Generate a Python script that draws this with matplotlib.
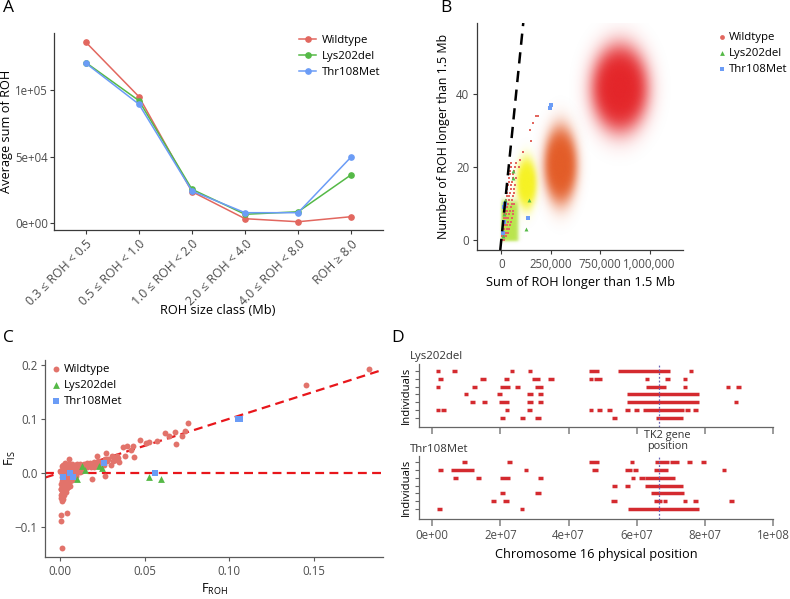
import numpy as np
import matplotlib
matplotlib.use('Agg')
import matplotlib.pyplot as plt
from matplotlib.colors import to_rgb
from matplotlib.transforms import blended_transform_factory
from matplotlib.collections import LineCollection

plt.rcParams['font.family'] = ['Open Sans', 'DejaVu Sans']
plt.rcParams['mathtext.fontset'] = 'custom'
plt.rcParams['mathtext.rm'] = 'Open Sans'
plt.rcParams['mathtext.it'] = 'Open Sans:italic'
plt.rcParams['mathtext.bf'] = 'Open Sans:bold'

# ---------------- Panel A data ----------------
size_classes = ['0.3 \u2264 ROH < 0.5', '0.5 \u2264 ROH < 1.0', '1.0 \u2264 ROH < 2.0',
                '2.0 \u2264 ROH < 4.0', '4.0 \u2264 ROH < 8.0', 'ROH \u2265 8.0']
roh_wildtype = [136100, 95200, 23800, 3500, 1200, 5000]
roh_lys202del = [120800, 92200, 25600, 6800, 8700, 36500]
roh_thr108met = [120300, 89500, 24300, 8000, 8000, 49900]
a_yticks = [0, 50000, 100000]
a_yticklabels = ['0e+00', '5e+04', '1e+05']

# ---------------- Panel B data ----------------
# simulated clouds: centre x, centre y, sd x, sd y, colour, max opacity
sim_clouds = {
    'red':    (600000, 41.5, 68000, 5.6, '#E3191D', 0.95),
    'orange': (300000, 20.5, 40000, 5.0, '#E2531B', 0.95),
    'yellow': (128000, 15.5, 24000, 3.3, '#F6F21C', 0.97),
}
green_block = (0, 85000, -0.3, 10.6, '#B2E23A', 0.9)   # x0, x1, y0, y1
b_wt_rows = {  # number of ROH -> sums (thousands)
    0: [5, 12], 1: [5, 15, 25], 2: [6, 14, 22, 35], 3: [8, 16, 28, 40],
    4: [10, 18, 30, 45], 5: [12, 20, 32, 50], 6: [14, 22, 36, 55], 7: [15, 25, 40, 58],
    8: [17, 28, 45, 60], 9: [20, 30, 48], 10: [22, 35, 52, 65], 11: [25, 38, 55],
    12: [27, 40, 60], 13: [30, 45, 62], 14: [30, 48, 65], 15: [35, 50, 70],
    16: [38, 55], 17: [40, 58, 75], 18: [42, 60], 19: [45, 65], 20: [48, 70, 90],
    21: [50, 75], 22: [95], 24: [110], 27: [150], 30: [146], 32: [163], 34: [177, 185],
}
b_lys_x = [59000, 59000, 141000, 126000, 20000, 15000, 10000]
b_lys_y = [19, 17, 11, 3, 11, 7, 1]
b_thr_x = [252000, 248000, 133000, 20000, 12000, 12000, 8000]
b_thr_y = [37, 36, 6, 10, 9, 5, 2]
b_line_slope = 1 / 1875.0
b_xticks = [0, 250000, 500000, 750000]
b_xticklabels = ['0', '250,000', '750,000', '1,000,000']
b_yticks = [0, 20, 40]

# ---------------- Panel C data ----------------
c_wt_x = [0.183, 0.1457, 0.0754, 0.0737, 0.072, 0.0677, 0.0687, 0.0642, 0.062, 0.0573,
          0.0525, 0.051, 0.047, 0.0434, 0.042, 0.0395, 0.0373, 0.0387, 0.0438, 0.0336,
          0.035, 0.0306, 0.0269, 0.0302, 0.0267, 0.0217, 0.0188, 0.0237, 0.0276, 0.0326,
          0.0207, 0.001, 0.0004, 0.0008, 0.004, 0.0006, 0.0004, 0.0012, 0.0015,
          0.001, 0.0012, 0.0009, 0.0011, 0.0013, 0.001, 0.0008, 0.0014, 0.0012,
          0.002, 0.0022, 0.0019, 0.0024, 0.0021, 0.0018, 0.0023, 0.002, 0.0025,
          0.003, 0.0032, 0.0029, 0.0034, 0.0031, 0.0028, 0.0033, 0.003,
          0.004, 0.0042, 0.0039, 0.0044, 0.0041, 0.0038, 0.0043,
          0.005, 0.0052, 0.0049, 0.0054, 0.0051, 0.0048, 0.0055,
          0.006, 0.0062, 0.0059, 0.0064, 0.0061,
          0.007, 0.0072, 0.0069, 0.0074, 0.0081, 0.0079, 0.0084,
          0.009, 0.0093, 0.0088, 0.0101, 0.0098, 0.0104, 0.011, 0.0113,
          0.012, 0.0122, 0.0131, 0.0128, 0.014, 0.0143, 0.015, 0.0161, 0.0158,
          0.017, 0.018, 0.0183, 0.019, 0.02, 0.0203, 0.022, 0.0223, 0.024, 0.0243,
          0.026, 0.0263, 0.0285, 0.0315, 0.0345,
          0.0065, 0.0078, 0.0086, 0.0095, 0.0108, 0.0118, 0.0035, 0.0046, 0.0057, 0.0068,
          0.0026, 0.0017, 0.0005, 0.0002, 0.0007, 0.0016, 0.0027, 0.0037]
c_wt_y = [0.193, 0.162, 0.092, 0.078, 0.0675, 0.0756, 0.053, 0.0688, 0.0737, 0.0595,
          0.0564, 0.0545, 0.0613, 0.049, 0.0415, 0.049, 0.047, 0.0304, 0.029, 0.0304,
          0.0198, 0.0304, 0.0366, 0.0149, -0.005, 0.0304, -0.011, 0.018, 0.021, 0.024,
          0.0149, -0.140, -0.078, -0.0886, -0.075, -0.047, -0.041, -0.052, -0.036,
          0.012, 0.005, -0.002, -0.008, -0.015, -0.022, -0.03, -0.038, -0.045,
          0.015, 0.008, 0.0, -0.006, -0.013, -0.02, -0.027, -0.034, -0.042,
          0.018, 0.01, 0.003, -0.004, -0.011, -0.018, -0.025, -0.032,
          0.014, 0.006, -0.001, -0.008, -0.015, -0.022, -0.029,
          0.017, 0.01, 0.002, -0.005, -0.012, -0.019, 0.025,
          0.013, 0.005, -0.002, -0.009, -0.016,
          0.016, 0.008, 0.0, -0.007, 0.012, 0.004, -0.004,
          0.015, 0.007, -0.001, 0.017, 0.009, 0.002, 0.013, 0.005,
          0.016, 0.008, 0.012, 0.004, 0.017, 0.009, 0.013, 0.018, 0.01,
          0.015, 0.019, 0.011, 0.014, 0.02, 0.01, 0.016, 0.022, 0.012, 0.02,
          0.015, 0.025, 0.026, 0.022, 0.027,
          -0.012, -0.01, 0.009, -0.006, 0.011, 0.001, -0.036, -0.026, -0.024, -0.014,
          -0.038, -0.048, -0.02, 0.004, -0.03, -0.024, -0.016, -0.02]
c_lys_x = [0.0128, 0.0148, 0.0099, 0.0233, 0.0247, 0.0529, 0.0598]
c_lys_y = [0.0118, 0.0056, -0.011, 0.0118, 0.0087, -0.0087, -0.011]
c_thr_x = [0.002, 0.0059, 0.0075, 0.0257, 0.0559, 0.105, 0.1066]
c_thr_y = [-0.008, -0.0006, -0.007, 0.018, 0.0, 0.1004, 0.1]
c_ref_slope = 1.0
c_ref_level = 0.0

# ---------------- Panel D data (Mb) ----------------
tk2_position = 66.5e6
lys_roh = [
    [(1.2, 2.4), (5.9, 7.2), (22.9, 24.1), (28.0, 29.3), (45.9, 48.8), (54.6, 69.9), (75.3, 76.6)],
    [(1.8, 3.1), (13.9, 15.9), (21.0, 22.4), (29.3, 31.5), (33.9, 35.6), (45.9, 47.2), (47.5, 49.9),
     (62.4, 63.7), (68.2, 69.9), (73.5, 74.8)],
    [(1.0, 2.2), (11.8, 13.1), (20.0, 22.7), (24.3, 25.7), (30.2, 32.4), (62.8, 68.6), (73.5, 74.8),
     (86.2, 87.5), (89.2, 90.5)],
    [(9.4, 10.6), (18.9, 20.4), (27.7, 29.5), (31.0, 32.4), (57.1, 78.4)],
    [(11.2, 12.5), (14.5, 16.1), (19.5, 22.6), (27.7, 29.5), (31.0, 32.4), (57.1, 78.4), (88.5, 89.7)],
    [(1.0, 2.3), (2.6, 4.1), (21.2, 22.5), (27.7, 29.4), (45.9, 47.3), (48.3, 49.8), (51.3, 52.7),
     (56.6, 57.9), (59.2, 60.6), (61.8, 74.0), (74.3, 75.7), (76.6, 78.0)],
    [(19.9, 21.3), (25.6, 27.1), (30.0, 31.8), (52.8, 54.1), (65.6, 73.5)],
]
thr_roh = [
    [(8.8, 10.1), (21.8, 23.3), (45.9, 49.0), (57.9, 59.3), (65.5, 69.6), (69.8, 72.3), (74.7, 76.1),
     (79.0, 80.4)],
    [(1.8, 3.2), (5.5, 12.1), (26.9, 28.2), (47.0, 48.6), (56.7, 58.5), (59.0, 60.4), (65.2, 69.3),
     (84.9, 86.3)],
    [(6.0, 7.4), (12.9, 14.3), (20.0, 22.7), (31.0, 32.4), (58.2, 59.4), (60.6, 62.3), (62.5, 71.1)],
    [(52.8, 54.3), (56.7, 58.1), (62.5, 73.7)],
    [(20.0, 21.4), (30.0, 31.8), (64.1, 73.8)],
    [(17.2, 18.6), (20.7, 22.5), (52.5, 54.2), (65.2, 67.3), (67.6, 69.0), (73.5, 74.9), (76.4, 77.9),
     (87.2, 88.7)],
    [(1.5, 2.8), (25.6, 27.0), (57.4, 78.4)],
]
d_xticks = [0, 2e7, 4e7, 6e7, 8e7, 1e8]
d_xticklabels = ['0e+00', '2e+07', '4e+07', '6e+07', '8e+07', '1e+08']

# ---------------- styling ----------------
COL_WT = '#E2675F'
COL_LYS = '#55B947'
COL_THR = '#6B9CF6'
COL_WT_PT = '#E2736B'
AX_COL = '#3A3A3A'
TICK_LAB = '#4D4D4D'
TS = 8.3
LS = 8.2      # legend / small titles
AT = 9.2      # axis titles

W, H = 790, 599
fig = plt.figure(figsize=(W / 100, H / 100), dpi=100)


def rect(l, t, r, b):
    return [l / W, 1 - b / H, (r - l) / W, (b - t) / H]


def style(ax, col=AX_COL):
    for s in ['top', 'right']:
        ax.spines[s].set_visible(False)
    for s in ['left', 'bottom']:
        ax.spines[s].set_color(col)
        ax.spines[s].set_linewidth(0.9)
    ax.tick_params(colors=col, labelcolor=TICK_LAB, labelsize=TS, length=3, width=0.8, pad=2.5)


# ===== Panel A =====
axA = fig.add_axes(rect(54, 33, 383, 230))
style(axA)
axA.tick_params(axis='y', pad=1.2)
xa = np.arange(len(size_classes))
for vals, col, lab in [(roh_wildtype, COL_WT, 'Wildtype'), (roh_lys202del, COL_LYS, 'Lys202del'),
                       (roh_thr108met, COL_THR, 'Thr108Met')]:
    axA.plot(xa, vals, color=col, lw=1.1, marker='o', ms=3.8, label=lab)
axA.set_xlim(-0.6, 5.6)
axA.set_ylim(-5000, 143000)
axA.set_yticks(a_yticks)
axA.set_yticklabels(a_yticklabels)
axA.set_xticks(xa)
axA.set_xticklabels(size_classes, rotation=45, ha='right', va='top', rotation_mode='anchor', fontsize=8.8)
axA.set_ylabel('Average sum of ROH', fontsize=AT)
axA.yaxis.set_label_coords((13 - 54) / 329, 0.5)
fig.text(218 / W, 1 - 311 / H, 'ROH size class (Mb)', fontsize=AT, ha='center', va='center')
legA = axA.legend(loc='upper left', bbox_to_anchor=(299 / W, 1 - 35 / H), bbox_transform=fig.transFigure,
                  frameon=False, fontsize=LS, handlelength=1.5, labelspacing=0.42, handletextpad=0.5,
                  borderaxespad=0, borderpad=0)

# ===== Panel B =====
axB = fig.add_axes(rect(477, 23, 683, 250))
style(axB)
bxl = (-122700, 919000)
byl = (-2.7, 59.3)
gx = np.linspace(bxl[0], bxl[1], 600)
gy = np.linspace(byl[0], byl[1], 600)
GX, GY = np.meshgrid(gx, gy)


def draw_field(alpha, color, z):
    rgba = np.zeros(GX.shape + (4,))
    rgba[..., :3] = to_rgb(color)
    rgba[..., 3] = alpha
    axB.imshow(rgba, extent=(bxl[0], bxl[1], byl[0], byl[1]), origin='lower', aspect='auto',
               interpolation='bilinear', zorder=z)


x0, x1, y0, y1, gcol, gam = green_block
sig = lambda t: 1 / (1 + np.exp(-t))
draw_field(gam * sig((GX - x0) / 2500) * sig((x1 - GX) / 5000) * sig((GY - y0) / 0.2) * sig((y1 - GY) / 0.5),
           gcol, 1)
for i, key in enumerate(['yellow', 'orange', 'red']):
    cx, cy, sx, sy, col, am = sim_clouds[key]
    d = np.exp(-0.5 * (((GX - cx) / sx) ** 2 + ((GY - cy) / sy) ** 2))
    draw_field(am * (1 - np.exp(-6.0 * d)), col, 2 + i)

bwx, bwy = [], []
for yv, xs in b_wt_rows.items():
    for xv in xs:
        bwx.append(xv * 1000)
        bwy.append(yv)
axB.scatter(bwx, bwy, s=4, marker='s', color=COL_WT, lw=0, zorder=6)
axB.scatter(b_lys_x, b_lys_y, s=8, marker='^', color=COL_LYS, lw=0, zorder=7)
axB.scatter(b_thr_x, b_thr_y, s=6, marker='s', color=COL_THR, lw=0, zorder=7)
axB.axline((0, 0), slope=b_line_slope, color='black', lw=1.8, dashes=(4.5, 3), zorder=8)
axB.set_xlim(*bxl)
axB.set_ylim(*byl)
axB.set_xticks(b_xticks)
axB.set_xticklabels(b_xticklabels)
axB.set_yticks(b_yticks)
axB.set_xlabel('Sum of ROH longer than 1.5 Mb', fontsize=AT, labelpad=4)
axB.set_ylabel('Number of ROH longer than 1.5 Mb', fontsize=8.9)
axB.yaxis.set_label_coords((450 - 477) / 206, 0.5)
hB = [axB.scatter([], [], s=12, marker='o', color=COL_WT, lw=0),
      axB.scatter([], [], s=12, marker='^', color=COL_LYS, lw=0),
      axB.scatter([], [], s=10, marker='s', color=COL_THR, lw=0)]
axB.legend(hB, ['Wildtype', 'Lys202del', 'Thr108Met'], loc='upper left',
           bbox_to_anchor=(717 / W, 1 - 32 / H), bbox_transform=fig.transFigure, frameon=False,
           fontsize=LS, handlelength=0.8, handletextpad=0.25, labelspacing=0.42, borderaxespad=0,
           borderpad=0)

# ===== Panel C =====
axC = fig.add_axes(rect(45, 360, 383, 557))
style(axC, '#5A5A5A')
axC.axhline(c_ref_level, color='#E8161B', lw=1.6, dashes=(4.0, 2.4), zorder=1)
axC.axline((0, 0), slope=c_ref_slope, color='#E8161B', lw=1.6, dashes=(4.0, 2.4), zorder=1)
axC.scatter(c_wt_x, c_wt_y, s=18, color=COL_WT_PT, lw=0, zorder=2, label='Wildtype')
axC.scatter(c_lys_x, c_lys_y, s=24, marker='^', color=COL_LYS, lw=0, zorder=3, label='Lys202del')
axC.scatter(c_thr_x, c_thr_y, s=20, marker='s', color=COL_THR, lw=0, zorder=3, label='Thr108Met')
axC.set_xlim(-0.0089, 0.191)
axC.set_ylim(-0.156, 0.209)
axC.set_xticks([0, 0.05, 0.10, 0.15])
axC.set_xticklabels(['0.00', '0.05', '0.10', '0.15'])
axC.set_yticks([-0.1, 0.0, 0.1, 0.2])
axC.set_yticklabels(['\u22120.1', '0.0', '0.1', '0.2'])
axC.set_xlabel(r'F$_{\mathrm{ROH}}$', fontsize=AT, labelpad=3)
axC.set_ylabel(r'F$_{\mathrm{IS}}$', fontsize=AT)
axC.yaxis.set_label_coords((18 - 45) / 338, 0.5)
axC.legend(loc='upper left', bbox_to_anchor=(51 / W, 1 - 364 / H), bbox_transform=fig.transFigure,
           frameon=False, fontsize=LS, handlelength=0.8, handletextpad=0.3, labelspacing=0.42,
           borderaxespad=0, borderpad=0)

# ===== Panel D =====
ROH_COL = '#D42A2F'
for (t, b, rows, title, ylo, yhi, show_labels) in [
        (364, 427, lys_roh, 'Lys202del', -0.15, 7.89, False),
        (456, 519, thr_roh, 'Thr108Met', -0.28, 7.8, True)]:
    ax = fig.add_axes(rect(419, t, 773, b))
    style(ax, '#666666')
    segs = []
    n = len(rows)
    for i, row in enumerate(rows):
        yv = n - i
        for s, e in row:
            segs.append([(s * 1e6, yv), (e * 1e6, yv)])
    ax.add_collection(LineCollection(segs, colors=ROH_COL, linewidths=2.5, capstyle='butt', zorder=2))
    ax.axvline(tk2_position, color='#6A64B4', lw=0.9, ls=(0, (1.5, 1.5)), zorder=3)
    ax.set_xlim(-3.9e6, 1.0e8)
    ax.set_ylim(ylo, yhi)
    ax.set_yticks(range(1, n + 1))
    ax.set_yticklabels([])
    ax.set_xticks(d_xticks)
    ax.tick_params(axis='x', length=5, width=1.2, colors='#8A8A8A', labelcolor=TICK_LAB)
    if show_labels:
        ax.set_xticklabels(d_xticklabels)
        ax.set_xlabel('Chromosome 16 physical position', fontsize=AT, labelpad=4)
        tr = blended_transform_factory(ax.transData, ax.transAxes)
        ax.text(69.0e6, 1.24, 'TK2 gene\nposition', transform=tr, ha='center', va='center',
                fontsize=7.8, linespacing=0.95, color='#333333')
    else:
        ax.set_xticklabels([])
    ax.set_ylabel('Individuals', fontsize=LS)
    ax.yaxis.set_label_coords((412 - 419) / 354, 0.5)
    fig.text(410 / W, 1 - (t - 7) / H, title, fontsize=LS, ha='left', va='center', color='#333333')

# panel letters
for lab, x, y in [('A', 3, 8), ('B', 440, 8), ('C', 3, 338), ('D', 391, 338)]:
    fig.text(x / W, 1 - y / H, lab, fontsize=12.5, ha='left', va='center')

fig.savefig('out.png', dpi=100)
